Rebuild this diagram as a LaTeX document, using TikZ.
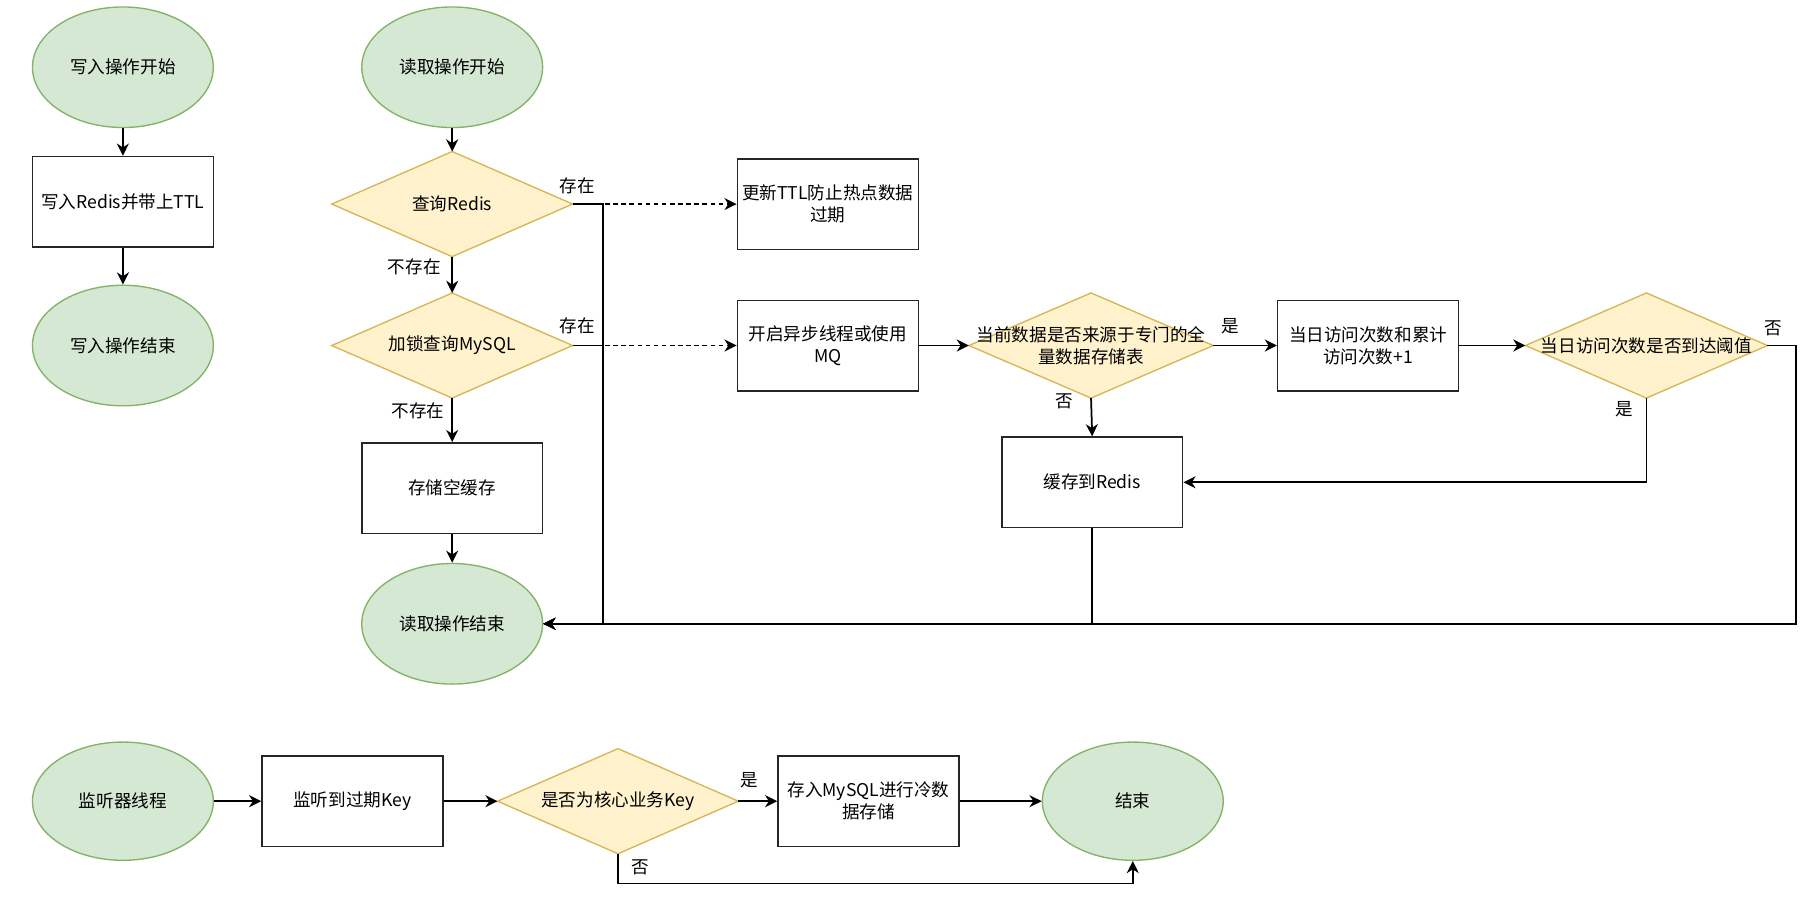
\documentclass[tikz,border=0pt]{standalone}
\usepackage{fontspec}
\setmainfont{Noto Sans CJK SC}
\usetikzlibrary{arrows.meta,shapes.geometric}
\definecolor{termfill}{HTML}{D5E8D4}
\definecolor{termline}{HTML}{82B366}
\definecolor{askfill}{HTML}{FFF2CC}
\definecolor{askline}{HTML}{D6B656}
\pgfdeclarelayer{background}
\pgfsetlayers{background,main}

\begin{document}
\begin{tikzpicture}[
  x=0.6pt,
  y=-0.6pt,
  every node/.style={font=\fontsize{9.1}{11.4}\selectfont, black},
  terminal/.style={ellipse, draw=termline, fill=termfill, line width=0.7pt,
                   minimum width=93.6pt, minimum height=62.4pt, inner sep=0pt},
  process/.style={rectangle, draw=black!85, fill=white, line width=0.8pt,
                  minimum width=93.6pt, minimum height=46.8pt, inner sep=1pt, align=center},
  decision/.style={rectangle, minimum width=124.2pt, minimum height=54pt,
                   inner sep=0pt, align=center},
  askshape/.style={draw=askline, fill=askfill, line width=0.7pt},
  flow/.style={line width=0.9pt, -{Stealth[length=6.3pt, width=6.2pt, inset=2pt]}},
  hint/.style={flow, dash pattern=on 2.4pt off 1.8pt},
  lbl/.style={inner sep=0pt}
]
  % ---- common bounding box ----
  \path (0,0) rectangle (1568,788);

  % ---- write flow ----
  \node[terminal] (ws) at (106,58) {写入操作开始};
  \node[process] (wr) at (106,174) {写入Redis并带上TTL};
  \node[terminal] (we) at (106,298) {写入操作结束};
  \draw[flow] (ws) -- (wr);
  \draw[flow] (wr) -- (we);

  % ---- read flow ----
  \node[terminal] (rs) at (390,58) {读取操作开始};
  \node[decision] (q1) at (390,176) {查询Redis};
  \node[decision] (q2) at (390,298) {加锁查询MySQL};
  \node[process] (nul) at (390,421) {存储空缓存};
  \node[terminal] (re) at (390,538) {读取操作结束};
  \node[process] (ttl) at (714,176) {更新TTL防止热点数据\\过期};
  \node[process] (mq) at (714,298) {开启异步线程或使用\\MQ};
  \node[decision, minimum width=126pt] (src) at (941,298)
    {当前数据是否来源于专门的全\\量数据存储表};
  \node[process] (cnt) at (1180,298) {当日访问次数和累计\\访问次数+1};
  \node[decision, minimum width=124.8pt] (lim) at (1420,298) {当日访问次数是否到达阈值};
  \node[process] (cache) at (942,416) {缓存到Redis};
  \coordinate (rbus) at (520,538);
  \coordinate (rbus2) at (1549,538);

  % ---- expiry listener ----
  \node[terminal, minimum height=61.2pt] (th) at (106,691) {监听器线程};
  \node[process] (key) at (304,691) {监听到过期Key};
  \node[decision] (core) at (533,691) {是否为核心业务Key};
  \node[process] (cold) at (749,691) {存入MySQL进行冷数\\据存储};
  \node[terminal, minimum height=61.2pt] (fin) at (977,691) {结束};
  \coordinate (nbend) at (977,762);

  % ---- diamonds behind the decision texts ----
  \begin{pgfonlayer}{background}
    \foreach \d in {q1,q2,src,lim,core}
      \filldraw[askshape] (\d.north) -- (\d.east) -- (\d.south) -- (\d.west) -- cycle;
  \end{pgfonlayer}

  % ---- read connectors ----
  \draw[flow] (rs) -- (q1.north);
  \draw[flow] (q1.south) -- node[lbl, pos=0, anchor=east, xshift=-5.5pt, yshift=-5.4pt] {不存在} (q2.north);
  \draw[flow] (q2.south) -- node[lbl, pos=0, anchor=east, xshift=-3.5pt, yshift=-6.6pt] {不存在} (nul);
  \draw[flow] (nul) -- (re);
  \draw[hint] (q1.east) -- node[lbl, pos=0, xshift=2.4pt, yshift=9.6pt] {存在} (ttl.west);
  \draw[flow] (q1.east) -| (rbus) -- (re.east);
  \draw[hint] (q2.east) -- node[lbl, pos=0, xshift=2.4pt, yshift=10.2pt] {存在} (mq.west);
  \draw[flow] (q2.east) -| (rbus) -- (re.east);
  \draw[flow] (mq.east) -- (src.west);
  \draw[flow] (src.east) -- node[lbl, pos=0, xshift=9pt, yshift=10.2pt] {是} (cnt.west);
  \draw[flow] (src.south) -- node[lbl, pos=0, xshift=-13.8pt, yshift=-1.5pt] {否} (cache.north);
  \draw[flow] (cnt.east) -- (lim.west);
  \draw[flow] (lim.south) |- node[lbl, pos=0, xshift=-11.4pt, yshift=-6pt] {是} (cache.east);
  \draw[flow] (lim.east) -| node[lbl, pos=0, xshift=3pt, yshift=9pt] {否} (rbus2) -- (re.east);
  \draw[flow] (cache.south) |- (re.east);

  % ---- listener connectors ----
  \draw[flow] (th) -- (key);
  \draw[flow] (key) -- (core.west);
  \draw[flow] (core.east) -- node[lbl, pos=0, xshift=5.4pt, yshift=10.8pt] {是} (cold);
  \draw[flow] (cold) -- (fin);
  \draw[flow] (core.south) |- node[lbl, pos=0, xshift=11.4pt, yshift=-7.2pt] {否} (nbend) -- (fin.south);
\end{tikzpicture}
\end{document}
